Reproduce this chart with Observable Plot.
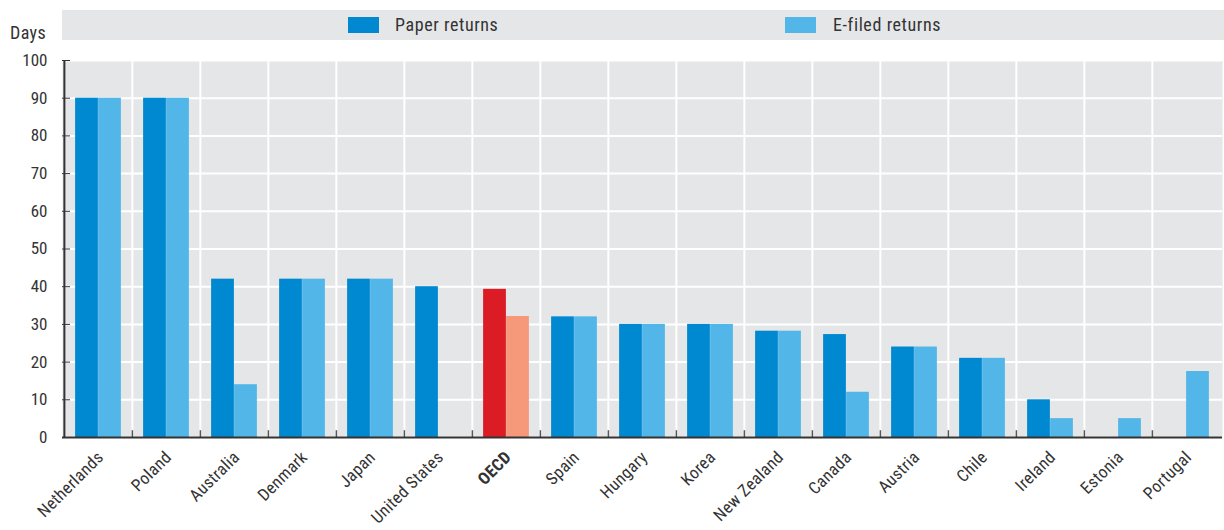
<!DOCTYPE html>
<html>
<head>
<meta charset="utf-8">
<script src="https://cdn.jsdelivr.net/npm/d3@7"></script>
<script src="https://cdn.jsdelivr.net/npm/@observablehq/plot@0.6"></script>
<style>
  body { margin: 0; background: #fff; }
  #wrap { position: relative; width: 1224px; height: 530px; font-family: "Liberation Sans Narrow", "Roboto Condensed", "DejaVu Sans Condensed", sans-serif; color: #333; }
  #wrap svg { position: absolute; left: 0; top: 0; }
  .legend { position: absolute; left: 62px; top: 10px; width: 1162px; height: 30px; background: #e5e6e8; z-index: 2; }
  .sw { position: absolute; top: 7px; width: 31px; height: 16px; }
  .lt { position: absolute; top: 4px; font-size: 18px; line-height: 22px; letter-spacing: 0.6px; }
  .days { position: absolute; left: 10px; top: 22px; font-size: 18px; line-height: 22px; letter-spacing: 0.4px; z-index: 2; }
</style>
</head>
<body>
<div id="wrap">
  <div class="legend">
    <div class="sw" style="left:286px;background:#0088d0"></div>
    <div class="lt" style="left:333px">Paper returns</div>
    <div class="sw" style="left:723px;background:#52b6e8"></div>
    <div class="lt" style="left:771px">E-filed returns</div>
  </div>
  <div class="days">Days</div>
</div>
<script>
const countries = ["Netherlands","Poland","Australia","Denmark","Japan","United States","OECD","Spain","Hungary","Korea","New Zealand","Canada","Austria","Chile","Ireland","Estonia","Portugal"];
const paperReturns = [90,90,42,42,42,40,39.3,32,30,30,28.2,27.3,24,21,10,null,null];
const efiledReturns = [90,90,14,42,42,null,32.1,32,30,30,28.2,12,24,21,5,5,17.5];
const yTicks = [0,10,20,30,40,50,60,70,80,90,100];

const paperRows = countries.map((c,i)=>({country:c, value:paperReturns[i]})).filter(d=>d.value!=null);
const efiledRows = countries.map((c,i)=>({country:c, value:efiledReturns[i]})).filter(d=>d.value!=null);

const W = 1224, H = 530, mL = 62, mR = 2, mT = 60, mB = 93;
const bw = (W - mL - mR) / countries.length;
const barW = 23;

const svg = Plot.plot({
  width: W, height: H,
  marginTop: mT, marginBottom: mB, marginLeft: mL, marginRight: mR,
  style: { fontFamily: '"Liberation Sans Narrow", "Roboto Condensed", "DejaVu Sans Condensed", sans-serif', fontSize: "16px", color: "#333", background: "transparent" },
  x: { type: "band", domain: countries, padding: 0 },
  y: { domain: [0, 100] },
  color: { type: "identity" },
  marks: [
    Plot.frame({ fill: "#e5e6e8", stroke: null }),
    Plot.gridY(yTicks, { stroke: "white", strokeOpacity: 1, strokeWidth: 2 }),
    Plot.ruleX(countries.slice(1), { x: d => d, dx: -bw/2, stroke: "white", strokeOpacity: 1, strokeWidth: 2 }),
    Plot.barY(paperRows, { x: "country", y: "value", fill: d => d.country === "OECD" ? "#dc1c24" : "#0088d0", insetLeft: bw/2 - barW, insetRight: bw/2 }),
    Plot.barY(efiledRows, { x: "country", y: "value", fill: d => d.country === "OECD" ? "#f5997a" : "#52b6e8", insetLeft: bw/2, insetRight: bw/2 - barW }),
    Plot.ruleX(countries.slice(1), { x: d => d, y1: 0, y2: 1.8, dx: -bw/2, stroke: "#555", strokeWidth: 1.5 }),
    Plot.ruleY([0], { stroke: "#333", strokeWidth: 2 }),
    Plot.ruleX([countries[0]], { x: d => d, dx: -bw/2, stroke: "#333", strokeWidth: 2 }),
    Plot.axisY(yTicks, { tickSize: 8, dx: 8, tickPadding: 15, stroke: "#333", label: null, fontSize: 17 }),
    Plot.axisX({ tickSize: 0, tickRotate: -45, tickPadding: 4, label: null, fontSize: 17, dx: 2, dy: 13 })
  ]
});
d3.select(svg).selectAll("text").filter(function(){ return this.textContent === "OECD"; }).attr("font-weight", "bold");
d3.select(svg).selectAll("g[aria-label='x-axis tick label']").attr("letter-spacing", "0.3px");
document.getElementById("wrap").appendChild(svg);
</script>
</body>
</html>
